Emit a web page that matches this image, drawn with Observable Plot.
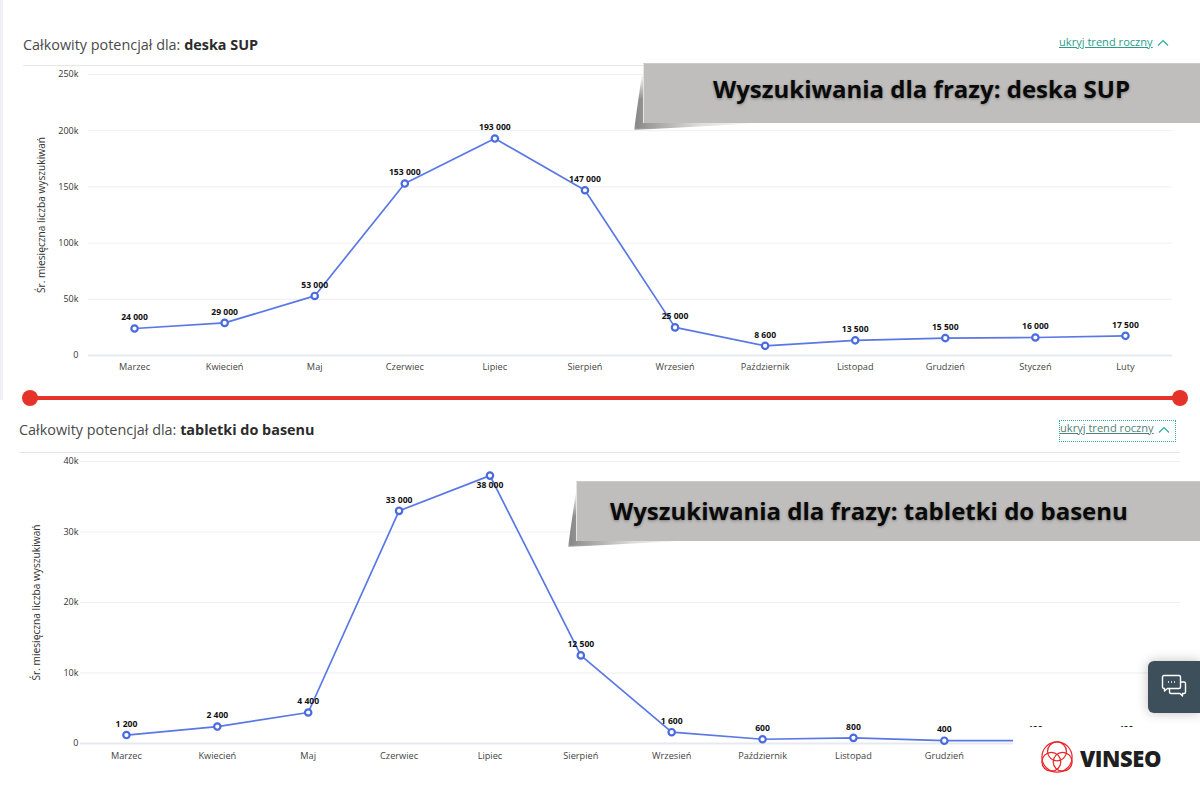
<!DOCTYPE html>
<html lang="pl">
<head>
<meta charset="utf-8">
<script src="https://cdn.jsdelivr.net/npm/d3@7"></script>
<script src="https://cdn.jsdelivr.net/npm/@observablehq/plot@0.6"></script>
<style>
html,body{margin:0;padding:0;background:#fff;width:1200px;height:800px;overflow:hidden;font-family:"Open Sans",sans-serif}
.abs{position:absolute}
.chart svg{display:block;font-family:"Open Sans",sans-serif;overflow:visible}
.head{font-size:14.4px;color:#4a4a4a;white-space:nowrap;line-height:18px}
.head b{color:#2b2b2b;font-weight:700}
.link{font-size:11.1px;color:#2b9c8c;text-decoration:underline;white-space:nowrap;line-height:14px}
.banner{background:#bfbebc;color:#0a0a0a;font-weight:700;font-size:24px;height:60px;white-space:nowrap;text-shadow:0 1px 3px rgba(0,0,0,.35);border-left:1px solid #e4e4e4;border-top:1px solid #cbcac8;box-sizing:border-box}
.fold{background:linear-gradient(90deg,#858585,#9a9a9a 10%,rgba(205,205,205,.7) 50%,rgba(255,255,255,0));filter:blur(.8px);-webkit-mask-image:linear-gradient(180deg,transparent,#000 45%);mask-image:linear-gradient(180deg,transparent,#000 45%)}
</style>
</head>
<body>
<div class="abs" style="left:0;top:0;width:3px;height:400px;background:#eef2f7"></div>

<div class="abs head" style="left:23px;top:36px">Całkowity potencjał dla: <b>deska SUP</b></div>
<div class="abs link" style="left:1059px;top:35px">ukryj trend roczny</div>
<svg class="abs" style="left:1157px;top:39px" width="12" height="8"><path d="M1 6.5L6 1.5L11 6.5" fill="none" stroke="#2fae9b" stroke-width="1.2"/></svg>
<div class="abs" style="left:23px;top:65px;width:1149px;height:1px;background:#e6e6e6"></div>
<div id="c1" class="abs chart" style="left:0;top:60px"></div>

<div class="abs" style="left:30px;top:395.5px;width:1150px;height:4px;background:#e6332a"></div>
<div class="abs" style="left:22px;top:390px;width:16px;height:16px;border-radius:50%;background:#e6332a"></div>
<div class="abs" style="left:1172px;top:390px;width:16px;height:16px;border-radius:50%;background:#e6332a"></div>

<div class="abs head" style="left:19px;top:421px">Całkowity potencjał dla: <b>tabletki do basenu</b></div>
<div class="abs link" style="left:1060px;top:421px;color:#4f7f78">ukryj trend roczny</div>
<svg class="abs" style="left:1158px;top:426px" width="12" height="8"><path d="M1 6.5L6 1.5L11 6.5" fill="none" stroke="#2fae9b" stroke-width="1.2"/></svg>
<div class="abs" style="left:1059px;top:420px;width:115px;height:20px;border:1px dotted #2fae9b"></div>
<div class="abs" style="left:19px;top:452px;width:1161px;height:1px;background:#e6e6e6"></div>
<div id="c2" class="abs chart" style="left:0;top:445px"></div>

<div class="abs fold" style="left:634px;top:74px;width:130px;height:56px;clip-path:polygon(8px 0,100% 47px,100% 49px,0 100%)"></div>
<div class="abs banner" style="left:643px;top:63px;width:557px;padding-left:69px;line-height:50px">Wyszukiwania dla frazy: deska SUP</div>

<div class="abs fold" style="left:568px;top:491px;width:130px;height:56px;clip-path:polygon(8px 0,100% 47px,100% 49px,0 100%)"></div>
<div class="abs banner" style="left:576px;top:481px;width:624px;padding-left:33px;line-height:58px">Wyszukiwania dla frazy: tabletki do basenu</div>

<div class="abs" style="left:1013px;top:727px;width:187px;height:73px;background:#fff"></div>
<svg class="abs" style="left:1040px;top:741px" width="34" height="34" viewBox="0 0 36 36" fill="none" stroke="#e8262a" stroke-width="1.3">
<circle cx="18" cy="17" r="16"/><circle cx="18" cy="11" r="10"/><circle cx="12" cy="22" r="10"/><circle cx="24" cy="22" r="10"/>
</svg>
<div class="abs" style="left:1080px;top:743px;font-size:22px;font-weight:800;color:#1f1f1f;line-height:30px;letter-spacing:-.4px">VINSEO</div>

<div class="abs" style="left:1148px;top:661px;width:52px;height:52px;border-radius:6px 0 0 6px;background:#3c4f5a;box-shadow:0 0 12px rgba(0,0,0,.25)"></div>
<svg class="abs" style="left:1161px;top:674px" width="26" height="26" viewBox="0 0 26 26" fill="none" stroke="#fff" stroke-width="1.4" stroke-linejoin="round">
<path d="M3 1.5H18a1.5 1.5 0 0 1 1.5 1.5V13a1.5 1.5 0 0 1-1.5 1.5H6.5L3.5 17V14.5H3A1.5 1.5 0 0 1 1.5 13V3A1.5 1.5 0 0 1 3 1.5Z"/>
<path d="M19.5 8H23a1.5 1.5 0 0 1 1.5 1.5V18a1.5 1.5 0 0 1-1.5 1.5H21.5V22L19 19.5H10A1.5 1.5 0 0 1 8.5 18V14.5"/>
<path d="M7 8H8M10 8H11M13 8H14" stroke-width="1.5"/>
</svg>

<script>
const months = ["Marzec","Kwiecień","Maj","Czerwiec","Lipiec","Sierpień","Wrzesień","Październik","Listopad","Grudzień","Styczeń","Luty"];
const deskaValues = [24000,29000,53000,153000,193000,147000,25000,8600,13500,15500,16000,17500];
const tabletkiValues = [1200,2400,4400,33000,38000,12500,1600,600,800,400,400,400];
const deskaTicks = [0,50000,100000,150000,200000,250000];
const tabletkiTicks = [0,10000,20000,30000,40000];
const yTitle = "Śr. miesięczna liczba wyszukiwań";
const lineColor = "#5a77e6", dotColor = "#4a6be0";

const fmtVal = v => d3.format(",")(v).replace(/,/g," ");
const fmtTick = v => v === 0 ? "0" : (v/1000) + "k";

function chart({values, ticks, yMax, height, marginTop, marginBottom, marginLeft, marginRight, xRange, titleDx, below, hiddenTicks, xPad}) {
  const rows = months.map((m,i) => ({m, v: values[i], below: below.includes(m)}));
  return Plot.plot({
    width: 1200, height, marginTop, marginBottom, marginLeft, marginRight,
    style: {background: "transparent", fontFamily: "'Open Sans',sans-serif"},
    x: {type: "point", domain: months, range: xRange, padding: 0.5, round: false, label: null},
    y: {domain: [0, yMax], label: null},
    marks: [
      Plot.ruleY(ticks.filter(t => t > 0), {stroke: "#efefef", strokeWidth: 1, strokeOpacity: 1}),
      Plot.ruleY([0], {stroke: "#e6e9ef", strokeWidth: 2, strokeOpacity: 1}),
      Plot.axisY({ticks, tickFormat: fmtTick, tickSize: 0, tickPadding: marginLeft - 78, fontSize: 9, fill: "#333", label: null}),
      Plot.text([yTitle], {frameAnchor: "left", textAnchor: "middle", rotate: -90, dx: titleDx, fontSize: 10.2, fill: "#333"}),
      Plot.axisX({tickSize: 0, tickPadding: xPad, fontSize: 9.2, fill: "#444", label: null,
        tickFormat: d => hiddenTicks.includes(d) ? "" : d}),
      Plot.line(rows, {x: "m", y: "v", stroke: lineColor, strokeWidth: 1.7, curve: "linear"}),
      Plot.dot(rows, {x: "m", y: "v", r: 3.2, fill: "#fff", stroke: dotColor, strokeWidth: 2.2}),
      Plot.text(rows, {x: "m", y: "v", text: d => fmtVal(d.v), dy: -11, filter: d => !d.below, fontSize: 8.6, fontWeight: 700, fill: "#111"}),
      Plot.text(rows, {x: "m", y: "v", text: d => fmtVal(d.v), dy: 10, filter: d => d.below, fontSize: 8.6, fontWeight: 700, fill: "#111"})
    ]
  });
}

document.getElementById("c1").append(chart({
  values: deskaValues, ticks: deskaTicks, yMax: 250000, height: 320,
  marginTop: 14, marginBottom: 25, marginLeft: 88, marginRight: 28, xRange: [89,1170], titleDx: -47, below: [], hiddenTicks: [], xPad: 8
}));
document.getElementById("c2").append(chart({
  values: tabletkiValues, ticks: tabletkiTicks, yMax: 40000, height: 335,
  marginTop: 16, marginBottom: 37, marginLeft: 80, marginRight: 20, xRange: [80.5,1171], titleDx: -44, below: ["Lipiec"], hiddenTicks: ["Styczeń","Luty"], xPad: 9
}));
</script>
</body>
</html>
